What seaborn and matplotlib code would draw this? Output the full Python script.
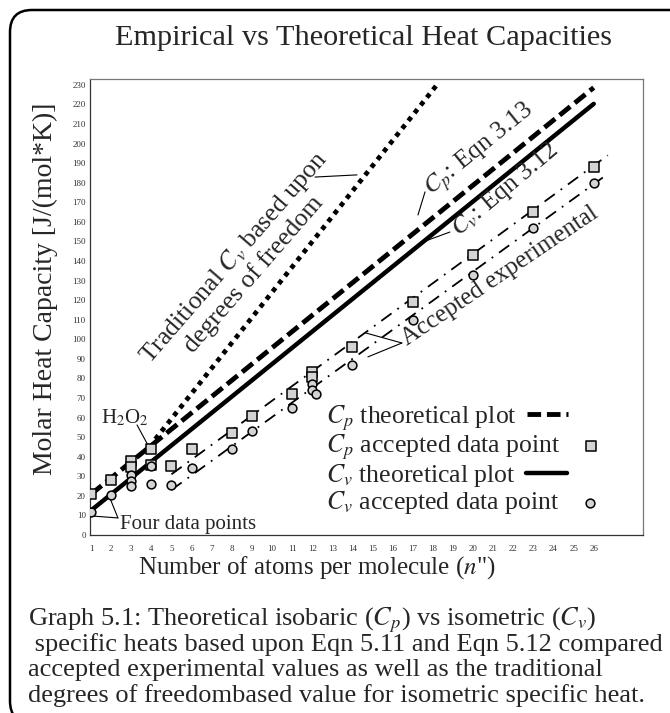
import matplotlib
matplotlib.use("Agg")
import matplotlib.pyplot as plt
from matplotlib.patches import FancyBboxPatch
from matplotlib.transforms import IdentityTransform
import seaborn as sns

# theoretical lines (end points)
n_theory = [1, 26]
cp_theory = [20.8, 228.6]
cv_theory = [12.5, 220.3]

# traditional Cv from degrees of freedom
n_trad = [4.2, 18.2]
cv_trad = [49, 230]

# accepted experimental trend lines
n_exp = [5, 26.7]
cp_exp_line = [31, 194]
cv_exp_line = [23, 184.5]

# accepted data points
n_cp = [1, 2, 3, 3, 4, 4, 5, 6, 8, 9, 11, 12, 12, 14, 17, 20, 23, 26]
cp_points = [21, 28, 38, 34.5, 44, 35.5, 35, 44, 52, 61, 72, 83.5, 80.5, 96, 119, 143, 165, 188]
n_cv = [1, 2, 3, 3, 3, 4, 4, 5, 6, 8, 9, 11, 12, 12, 12.2, 14, 17, 20, 23, 26]
cv_points = [11.5, 20.5, 30.5, 27.5, 25, 35, 26, 25.5, 34, 44, 53, 65, 77, 74, 72, 87, 110, 133, 157, 180]

x_ticks = list(range(1, 27))
y_ticks = list(range(0, 231, 10))

caption_lines = [
    "Graph 5.1: Theoretical isobaric ($C_p$) vs isometric ($C_v$)",
    " specific heats based upon Eqn 5.11 and Eqn 5.12 compared",
    "accepted experimental values as well as the traditional",
    "degrees of freedombased value for isometric specific heat.",
]

sns.set_theme(style="white")
plt.rcParams["font.family"] = ["Liberation Serif", "DejaVu Serif"]
plt.rcParams["mathtext.fontset"] = "stix"

fig = plt.figure(figsize=(6.7, 7.13), dpi=100)
ax = fig.add_axes([0.1343, 0.2497, 0.8254, 0.6395])

sns.lineplot(x=n_theory, y=cp_theory, ax=ax, color="black", lw=3.5,
             linestyle=(0, (2.8, 1.2)), label="$C_p$ theoretical plot")
sns.lineplot(x=n_theory, y=cv_theory, ax=ax, color="black", lw=3.2,
             label="$C_v$ theoretical plot")
sns.lineplot(x=n_trad, y=cv_trad, ax=ax, color="black", lw=3.4,
             linestyle=(0, (1, 1.1)), label="_trad")
sns.lineplot(x=n_exp, y=cp_exp_line, ax=ax, color="black", lw=1.3,
             linestyle=(0, (7, 4, 1, 4)), label="_cpexp")
sns.lineplot(x=n_exp, y=cv_exp_line, ax=ax, color="black", lw=1.3,
             linestyle=(0, (7, 4, 1, 4)), label="_cvexp")

sns.scatterplot(x=n_cp, y=cp_points, ax=ax, marker="s", s=42, color="#d4d4d4",
                edgecolor="black", linewidth=1.1, zorder=5,
                label="$C_p$ accepted data point")
sns.scatterplot(x=n_cv, y=cv_points, ax=ax, marker="o", s=40, color="#d4d4d4",
                edgecolor="black", linewidth=1.1, zorder=5,
                label="$C_v$ accepted data point")

ax.set_xlim(0.95, 28.45)
ax.set_ylim(0, 233)
ax.set_xticks(x_ticks)
ax.set_yticks(y_ticks)
ax.tick_params(axis="both", labelsize=6.5, length=0, colors="#333333")
ax.tick_params(axis="x", pad=7)
ax.tick_params(axis="y", pad=3)
for side in ["left", "bottom"]:
    ax.spines[side].set_color("#333333")
    ax.spines[side].set_linewidth(0.9)
for side in ["top", "right"]:
    ax.spines[side].set_color("#777777")
    ax.spines[side].set_linewidth(0.9)

ax.set_ylabel("Molar Heat Capacity [J/(mol*K)]", fontsize=20)
ax.yaxis.label.set_verticalalignment("center")
ax.yaxis.set_label_coords(-0.08, 0.54)
ax.set_xlabel("Number of atoms per molecule ($n$\")", fontsize=18)
ax.xaxis.label.set_verticalalignment("center")
ax.xaxis.set_label_coords(0.41, -0.072)

# legend: order as in the original, text left and symbol after it
handles, labels = ax.get_legend_handles_labels()
lookup = dict(zip(labels, handles))
order = ["$C_p$ theoretical plot", "$C_p$ accepted data point",
         "$C_v$ theoretical plot", "$C_v$ accepted data point"]
leg = ax.legend([lookup[k] for k in order], order, loc="lower right",
                bbox_to_anchor=(0.962, 0.018), frameon=False, fontsize=18.5,
                markerfirst=False, handlelength=1.6, handletextpad=0.4,
                labelspacing=0.0, borderaxespad=0)
for col in leg._legend_handle_box.get_children():
    col.align = "left"

# line annotations
ax.text(8.58, 137.7, "Traditional $C_v$ based upon\ndegrees of freedom",
        rotation=49, rotation_mode="anchor", ha="center", va="center",
        multialignment="center", fontsize=18.5, linespacing=1.05)
ax.text(20.34, 196.7, "$C_p$: Eqn 3.13", rotation=39, rotation_mode="anchor",
        ha="center", va="center", fontsize=18.3)
ax.text(21.6, 176.3, "$C_v$: Eqn 3.12", rotation=40, rotation_mode="anchor",
        ha="center", va="center", fontsize=18.3)
ax.text(21.34, 132.3, "Accepted experimental", rotation=34, rotation_mode="anchor",
        ha="center", va="center", fontsize=18)
ax.text(2.69, 59.8, "H$_2$O$_2$", ha="center", va="center", fontsize=15)
ax.text(2.44, 5.6, "Four data points", ha="left", va="center", fontsize=15)

leaders = [
    ((12.14, 182.9), (14.23, 184.0)),
    ((17.26, 163.5), (17.61, 175.3)),
    ((17.76, 150.7), (18.85, 154.8)),
    ((16.46, 98.1), (14.67, 103.2)),
    ((16.46, 98.1), (14.77, 91.0)),
    ((3.29, 56.2), (3.83, 46.0)),
    ((2.34, 8.7), (1.05, 9.7)),
    ((2.34, 8.7), (1.94, 18.9)),
]
for start, end in leaders:
    ax.annotate("", xy=end, xytext=start,
                arrowprops=dict(arrowstyle="-", color="black", lw=0.8,
                                shrinkA=0, shrinkB=0))

fig.text(0.542, 0.947, "Empirical vs Theoretical Heat Capacities",
         ha="center", va="center", fontsize=21.8)

# caption, one line at a time so the line pitch stays even
for i, line in enumerate(caption_lines):
    fig.text(0.042, 1 - (625 + 25.7 * i) / 713, line, ha="left", va="baseline",
             fontsize=19)

# rounded frame around the whole figure
frame = FancyBboxPatch((10, -10), 700, 713, boxstyle="round,pad=0,rounding_size=22",
                       transform=IdentityTransform(), fill=False,
                       edgecolor="black", linewidth=1.8)
fig.add_artist(frame)

fig.savefig("out.png", dpi=100)
